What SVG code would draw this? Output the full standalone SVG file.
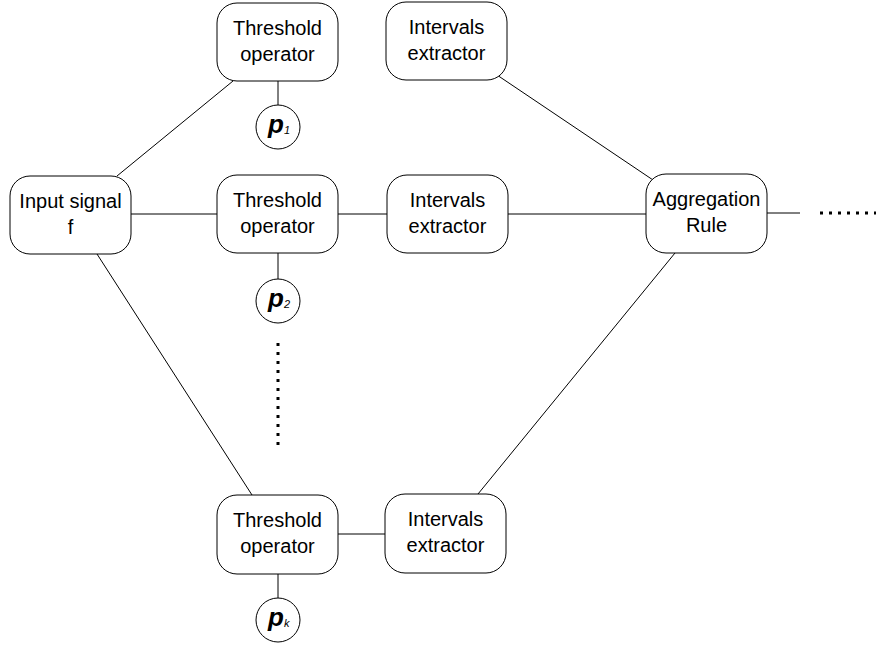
<svg xmlns="http://www.w3.org/2000/svg" width="880" height="645" viewBox="0 0 880 645">
<style>
.box{fill:#fff;stroke:#000;stroke-width:1}
.lbl{font-family:"Liberation Sans",Arial,sans-serif;font-size:20px;fill:#000;text-anchor:middle}
.p{font-family:"Liberation Sans",Arial,sans-serif;font-style:italic;font-weight:bold;font-size:26px;fill:#000}
.sub{font-size:11px;font-weight:normal}
.c{fill:#fff;stroke:#000;stroke-width:1}
.ln{stroke:#000;stroke-width:1;fill:none}
.dot{stroke:#000;stroke-width:3;stroke-dasharray:3 6;fill:none}
</style>
<rect width="880" height="645" fill="#fff"/>
<g id="connectors">
<line class="ln" x1="117" y1="176" x2="233" y2="81"/>
<line class="ln" x1="131" y1="214" x2="217" y2="214"/>
<line class="ln" x1="97" y1="254" x2="252" y2="495"/>
<line class="ln" x1="278" y1="81" x2="278" y2="105"/>
<line class="ln" x1="278" y1="253" x2="278" y2="279"/>
<line class="ln" x1="278" y1="574" x2="278" y2="598"/>
<line class="ln" x1="338" y1="214" x2="387" y2="214"/>
<line class="ln" x1="338" y1="534" x2="385" y2="534"/>
<line class="ln" x1="497" y1="75" x2="656" y2="182"/>
<line class="ln" x1="508" y1="214" x2="646" y2="214"/>
<line class="ln" x1="478" y1="494" x2="675" y2="253"/>
<line class="ln" x1="767" y1="213" x2="800" y2="213"/>
<line class="dot" x1="820" y1="213" x2="876" y2="213"/>
<line class="dot" x1="278" y1="343" x2="278" y2="450"/>
</g>
<g id="input"><rect class="box" x="10" y="176" width="121" height="78" rx="20"/><text class="lbl" x="70.5" y="208">Input signal</text><text class="lbl" x="70.5" y="234">f</text></g>
<g id="thr1"><rect class="box" x="217" y="3" width="121" height="78" rx="20"/><text class="lbl" x="277.5" y="35">Threshold</text><text class="lbl" x="277.5" y="61">operator</text></g>
<g id="thr2"><rect class="box" x="217" y="175" width="121" height="78" rx="20"/><text class="lbl" x="277.5" y="207">Threshold</text><text class="lbl" x="277.5" y="233">operator</text></g>
<g id="thrk"><rect class="box" x="217" y="495" width="121" height="79" rx="20"/><text class="lbl" x="277.5" y="527">Threshold</text><text class="lbl" x="277.5" y="553">operator</text></g>
<g id="int1"><rect class="box" x="386" y="2" width="121" height="78" rx="20"/><text class="lbl" x="446.5" y="34">Intervals</text><text class="lbl" x="446.5" y="60">extractor</text></g>
<g id="int2"><rect class="box" x="387" y="175" width="121" height="78" rx="20"/><text class="lbl" x="447.5" y="207">Intervals</text><text class="lbl" x="447.5" y="233">extractor</text></g>
<g id="intk"><rect class="box" x="385" y="494" width="121" height="79" rx="20"/><text class="lbl" x="445.5" y="526">Intervals</text><text class="lbl" x="445.5" y="552">extractor</text></g>
<g id="agg"><rect class="box" x="646" y="174" width="121" height="79" rx="20"/><text class="lbl" x="706.5" y="206">Aggregation</text><text class="lbl" x="706.5" y="232">Rule</text></g>
<g id="p1"><circle class="c" cx="278" cy="127" r="22"/><text class="p" x="268" y="133">p<tspan class="sub" dy="1">1</tspan></text></g>
<g id="p2"><circle class="c" cx="278" cy="301" r="22"/><text class="p" x="268" y="307">p<tspan class="sub" dy="1">2</tspan></text></g>
<g id="pk"><circle class="c" cx="278" cy="620" r="22"/><text class="p" x="268" y="626">p<tspan class="sub" dy="1">k</tspan></text></g>
</svg>
